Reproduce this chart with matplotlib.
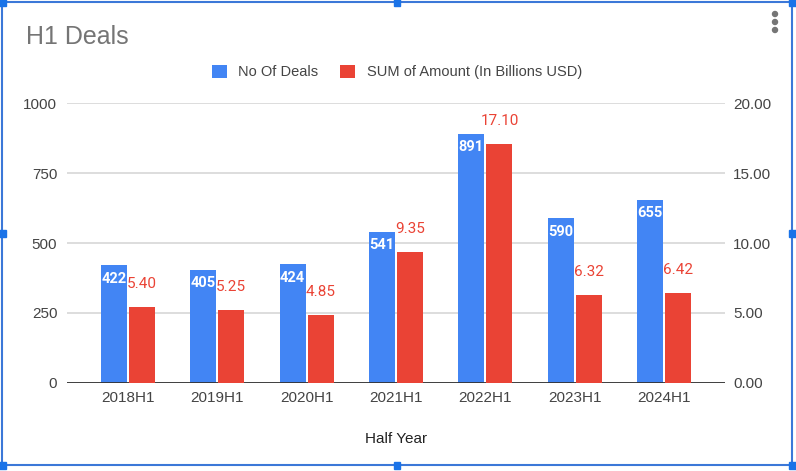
import numpy as np
import matplotlib.pyplot as plt
from matplotlib.patches import Rectangle, Ellipse

periods = ['2018H1', '2019H1', '2020H1', '2021H1', '2022H1', '2023H1', '2024H1']
deals = [422, 405, 424, 541, 891, 590, 655]
amount = [5.40, 5.25, 4.85, 9.35, 17.10, 6.32, 6.42]

blue = '#4285F4'
red = '#EA4335'
plt.rcParams['font.family'] = ['Liberation Sans', 'DejaVu Sans']

W, H = 796, 471
fig = plt.figure(figsize=(W / 100, H / 100), dpi=100)
ax = fig.add_axes([67 / W, 1 - 383 / H, (725 - 67) / W, (383 - 103) / H])
ax2 = ax.twinx()

x = np.arange(len(periods))
bw = 0.29
off = 0.157
b1 = ax.bar(x - off, deals, bw, color=blue, label='No Of Deals', zorder=3)
b2 = ax2.bar(x + off, amount, bw, color=red, label='SUM of Amount (In Billions USD)', zorder=3)

ax.set_xlim(-0.68, 6.68)
ax.set_ylim(0, 1000)
ax2.set_ylim(0, 20)
ax.set_yticks([0, 250, 500, 750, 1000])
ax2.set_yticks([0, 5, 10, 15, 20])
ax2.set_yticklabels([f'{v:.2f}' for v in [0, 5, 10, 15, 20]])
ax.set_xticks(x)
ax.set_xticklabels(periods)

for a in (ax, ax2):
    for s in a.spines.values():
        s.set_visible(False)
    a.tick_params(length=0, labelsize=11, colors='#444444')
ax.tick_params(axis='y', pad=7)
ax2.tick_params(axis='y', pad=6)
ax.tick_params(axis='x', pad=6)
ax.yaxis.grid(True, color='#dadada', lw=1.3, zorder=0)
ax.set_axisbelow(True)
ax.axhline(0, color='#333333', lw=1.3, zorder=4)
ax.set_xlabel('Half Year', fontsize=11, color='#222222', labelpad=19)

for xi, v in zip(x, deals):
    ax.annotate(str(v), (xi - off, v), xytext=(0, -10), textcoords='offset points',
                ha='center', va='center', color='white', fontsize=10.5,
                fontweight='bold', family=['Roboto', 'DejaVu Sans'], zorder=5)
for xi, v in zip(x, amount):
    ax2.annotate(f'{v:.2f}', (xi + off, v), xytext=(0, 16.5), textcoords='offset points',
                 ha='center', va='center', color=red, fontsize=11,
                 family=['Roboto', 'DejaVu Sans'], zorder=5)

fig.text(26 / W, 1 - 37 / H, 'H1 Deals', fontsize=18, color='#757575', va='center')

fig.legend([b1, b2], ['No Of Deals', 'SUM of Amount (In Billions USD)'],
           loc='center', bbox_to_anchor=(397 / W, 1 - 72 / H), ncol=2, frameon=False,
           fontsize=10.5, handlelength=1.0, handleheight=1.0, handletextpad=0.8,
           columnspacing=1.5, labelcolor='#444444')

# three-dot menu
for yy in (14, 22, 30):
    fig.add_artist(Ellipse((775 / W, 1 - yy / H), 5 / W, 5 / H,
                           transform=fig.transFigure, color='#757575'))

# selection frame with handles
bc = '#3c78d8'
fig.add_artist(Rectangle((2 / W, 1 - 465 / H), 790 / W, 463 / H, transform=fig.transFigure,
                         fill=False, edgecolor=bc, lw=1.5))
for hx in (2, 397, 792):
    for hy in (2, 233, 465):
        if hx == 397 and hy == 233:
            continue
        fig.add_artist(Rectangle(((hx - 3.5) / W, 1 - (hy + 3.5) / H), 7 / W, 7 / H,
                                 transform=fig.transFigure, color='#1a73e8'))

fig.savefig('out.png', dpi=100)
